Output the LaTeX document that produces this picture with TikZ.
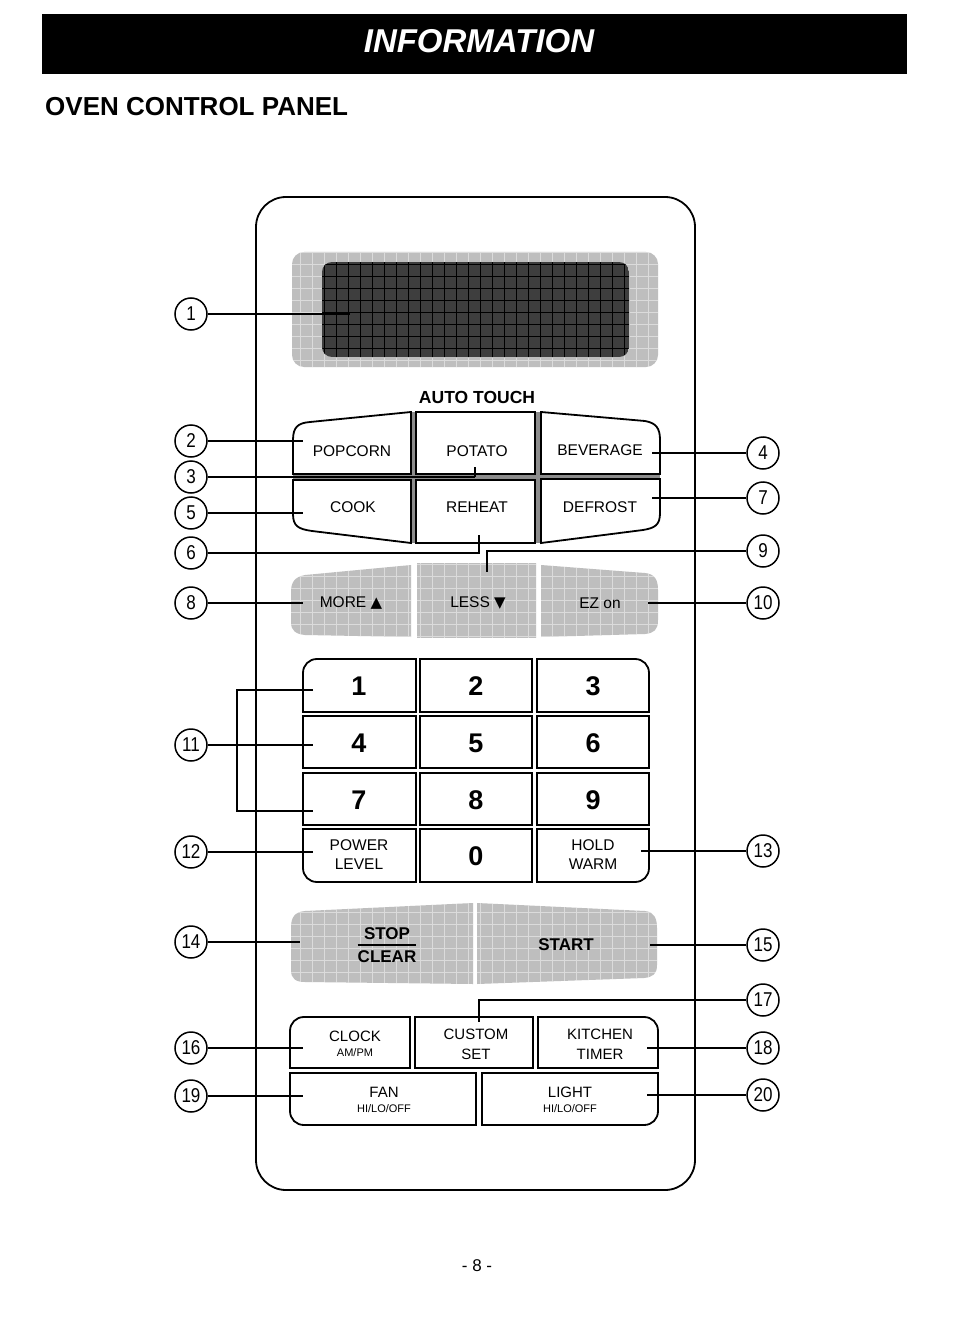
\documentclass[tikz,border=0pt]{standalone}
\usepackage{fontspec}
\setmainfont{Liberation Sans}
\newfontfamily\cond[FakeStretch=0.85]{Liberation Sans}
\newfontfamily\symf{DejaVu Sans}
\definecolor{btngray}{HTML}{BEBEBE}
\definecolor{lcdgray}{HTML}{3E3E3E}
\definecolor{gapgray}{HTML}{8C8C8C}
\tikzset{
  num/.style={circle,draw,line width=1.5pt,minimum size=32pt,inner sep=0pt,fill=white,font=\cond\fontsize{20}{20}\selectfont},
  lead/.style={line width=1.3pt},
  btn/.style={draw,line width=1.8pt,fill=white},
  lbl/.style={font=\fontsize{15.5}{19}\selectfont,inner sep=0pt,align=center},
  sml/.style={font=\fontsize{11}{13}\selectfont,inner sep=0pt},
  bld/.style={font=\bfseries\fontsize{17}{20}\selectfont,inner sep=0pt},
  dig/.style={font=\bfseries\fontsize{27}{27}\selectfont,inner sep=0pt},
}
\newcommand\gfill[1]{\begin{scope}\clip #1;\fill[btngray] (250,190) rectangle (700,1000);
  \draw[white,line width=0.6pt,opacity=0.45,step=12pt] (250,190) grid (700,1000);\end{scope}}
\begin{document}
\begin{tikzpicture}[x=1pt,y=-1pt]
\useasboundingbox (0,0) rectangle (953,1332);
\fill[white] (0,0) rectangle (953,1332);
% header
\fill[black] (42,14) rectangle (907,74);
\node[text=white,font=\bfseries\itshape\fontsize{33}{33}\selectfont,inner sep=0pt] (title) at (479,41) {INFORMATION};
\node[anchor=west,font=\bfseries\fontsize{26}{26}\selectfont,inner sep=0pt] (sub) at (45,107) {OVEN CONTROL PANEL};
% panel
\draw[line width=1.8pt,rounded corners=30pt] (256,197) rectangle (695,1190);
% display
\gfill{[rounded corners=12pt] (292,252) rectangle (658,367)}
\begin{scope}
  \clip[rounded corners=10pt] (322,262) rectangle (629,357);
  \fill[lcdgray] (322,262) rectangle (629,357);
  \draw[black,line width=0.8pt,step=12pt] (310,250) grid (640,370);
\end{scope}
\node[inner sep=0pt] (disp) at (475,310) {};
% auto touch
\node[font=\bfseries\fontsize{17.5}{18}\selectfont,inner sep=0pt] (auto) at (477,397) {AUTO TOUCH};
\fill[gapgray] (411,412) rectangle (416,543);
\fill[gapgray] (535,412) rectangle (541,543);
\fill[gapgray] (293,474) rectangle (660,480);
\path[btn] (411,412) -- (411,474) -- (293,474) -- (293,440) .. controls (293,427) and (298,423) .. (310,422) -- cycle;
\path[btn] (416,412) rectangle (535,474);
\path[btn] (541,412) -- (645,421) .. controls (656,423) and (660,428) .. (660,440) -- (660,474) -- (541,474) -- cycle;
\path[btn] (411,480) -- (293,480) -- (293,514) .. controls (293,526) and (298,529) .. (312,531) -- (411,543) -- cycle;
\path[btn] (416,480) rectangle (535,543);
\path[btn] (541,479) -- (660,479) -- (660,513) .. controls (660,525) and (655,528) .. (643,530) -- (541,543) -- cycle;
\node[lbl] (popcorn) at (352,451) {POPCORN};
\node[lbl] (potato) at (477,451) {POTATO};
\node[lbl] (beverage) at (600,450) {BEVERAGE};
\node[lbl] (cook) at (353,507) {COOK};
\node[lbl] (reheat) at (477,507) {REHEAT};
\node[lbl] (defrost) at (600,507) {DEFROST};
% more less ez
\gfill{(411,565) -- (305,575) .. controls (294,577) and (291,583) .. (291,592) -- (291,622) .. controls (291,631) and (296,634) .. (305,635) -- (411,637) -- cycle}
\gfill{(417,563) rectangle (536,637)}
\gfill{(541,565) -- (645,573) .. controls (655,574) and (658,580) .. (658,590) -- (658,620) .. controls (658,630) and (654,633) .. (645,634) -- (541,637) -- cycle}
\node[lbl] (more) at (351,603) {MORE {\symf\fontsize{15}{15}\selectfont ▲}};
\node[lbl] (less) at (478,603) {LESS {\symf\fontsize{15}{15}\selectfont ▼}};
\node[lbl] (ez) at (600,603) {EZ on};
% number pad
\path[btn] (416,659) -- (416,712) -- (303,712) -- (303,673) .. controls (303,665) and (309,659) .. (317,659) -- cycle;
\path[btn] (420,659) rectangle (532,712);
\path[btn] (537,659) -- (635,659) .. controls (643,659) and (649,665) .. (649,673) -- (649,712) -- (537,712) -- cycle;
\path[btn] (303,716) rectangle (416,768);
\path[btn] (420,716) rectangle (532,768);
\path[btn] (537,716) rectangle (649,768);
\path[btn] (303,773) rectangle (416,825);
\path[btn] (420,773) rectangle (532,825);
\path[btn] (537,773) rectangle (649,825);
\path[btn] (303,829) -- (416,829) -- (416,882) -- (317,882) .. controls (309,882) and (303,876) .. (303,868) -- cycle;
\path[btn] (420,829) rectangle (532,882);
\path[btn] (537,829) -- (649,829) -- (649,868) .. controls (649,876) and (643,882) .. (635,882) -- (537,882) -- cycle;
\node[dig] (k1) at (359,686) {1};
\node[dig] (k2) at (476,686) {2};
\node[dig] (k3) at (593,686) {3};
\node[dig] (k4) at (359,743) {4};
\node[dig] (k5) at (476,743) {5};
\node[dig] (k6) at (593,743) {6};
\node[dig] (k7) at (359,800) {7};
\node[dig] (k8) at (476,800) {8};
\node[dig] (k9) at (593,800) {9};
\node[dig] (k0) at (476,856) {0};
\node[lbl] (power) at (359,855) {POWER\\LEVEL};
\node[lbl] (hold) at (593,855) {HOLD\\WARM};
% stop start
\gfill{(473,903) -- (305,911) .. controls (294,912) and (291,918) .. (291,928) -- (291,970) .. controls (291,979) and (296,982) .. (305,982) -- (473,984) -- cycle}
\gfill{(477,903) -- (645,911) .. controls (654,912) and (657,918) .. (657,928) -- (657,965) .. controls (657,974) and (653,977) .. (644,978) -- (477,984) -- cycle}
\node[bld] (stop) at (387,934) {STOP};
\node[bld] (clear) at (387,957) {CLEAR};
\draw[line width=1.6pt] (clear.north west |- 0,945) -- (clear.north east |- 0,945);
\node[bld] (start) at (566,945) {START};
% bottom buttons
\path[btn] (410,1017) -- (410,1068) -- (290,1068) -- (290,1031) .. controls (290,1023) and (296,1017) .. (304,1017) -- cycle;
\path[btn] (415,1017) rectangle (533,1068);
\path[btn] (538,1017) -- (644,1017) .. controls (652,1017) and (658,1023) .. (658,1031) -- (658,1068) -- (538,1068) -- cycle;
\path[btn] (290,1073) -- (476,1073) -- (476,1125) -- (304,1125) .. controls (296,1125) and (290,1119) .. (290,1111) -- cycle;
\path[btn] (482,1073) -- (658,1073) -- (658,1111) .. controls (658,1119) and (652,1125) .. (644,1125) -- (482,1125) -- cycle;
\node[lbl,font=\fontsize{15}{18}\selectfont] (clock) at (355,1036) {CLOCK};
\node[sml] (ampm) at (355,1053) {AM/PM};
\node[lbl,font=\fontsize{15}{18}\selectfont] (custom) at (476,1034) {CUSTOM};
\node[lbl,font=\fontsize{15}{18}\selectfont] (set) at (476,1054) {SET};
\node[lbl,font=\fontsize{15}{18}\selectfont] (kitchen) at (600,1034) {KITCHEN};
\node[lbl,font=\fontsize{15}{18}\selectfont] (timer) at (600,1054) {TIMER};
\node[lbl,font=\fontsize{15}{18}\selectfont] (fan) at (384,1092) {FAN};
\node[sml] (fanhl) at (384,1109) {HI/LO/OFF};
\node[lbl,font=\fontsize{15}{18}\selectfont] (light) at (570,1092) {LIGHT};
\node[sml] (lighthl) at (570,1109) {HI/LO/OFF};
% page number
\node[font=\fontsize{17}{17}\selectfont,inner sep=0pt] (page) at (477,1266) {- 8 -};
% callout circles
\node[num] (c1) at (191,314) {1};
\node[num] (c2) at (191,441) {2};
\node[num] (c3) at (191,477) {3};
\node[num] (c4) at (763,453) {4};
\node[num] (c5) at (191,513) {5};
\node[num] (c6) at (191,553) {6};
\node[num] (c7) at (763,498) {7};
\node[num] (c8) at (191,603) {8};
\node[num] (c9) at (763,551) {9};
\node[num] (c10) at (763,603) {10};
\node[num] (c11) at (191,745) {11};
\node[num] (c12) at (191,852) {12};
\node[num] (c13) at (763,851) {13};
\node[num] (c14) at (191,942) {14};
\node[num] (c15) at (763,945) {15};
\node[num] (c16) at (191,1048) {16};
\node[num] (c17) at (763,1000) {17};
\node[num] (c18) at (763,1048) {18};
\node[num] (c19) at (191,1096) {19};
\node[num] (c20) at (763,1095) {20};
% leader end points
\coordinate (e1) at (350,314);
\coordinate (e2) at (303,441);
\coordinate (e3a) at (475,477); \coordinate (e3b) at (475,467);
\coordinate (e4) at (652,453);
\coordinate (e5) at (303,513);
\coordinate (e6a) at (479,553); \coordinate (e6b) at (479,535);
\coordinate (e7) at (652,498);
\coordinate (e8) at (303,603);
\coordinate (e9a) at (487,551); \coordinate (e9b) at (487,572);
\coordinate (e10) at (648,603);
\coordinate (e11) at (313,745);
\coordinate (b11a) at (313,690); \coordinate (b11b) at (237,690);
\coordinate (b11c) at (237,811); \coordinate (b11d) at (313,811);
\coordinate (e12) at (313,852);
\coordinate (e13) at (641,851);
\coordinate (e14) at (300,942);
\coordinate (e15) at (650,945);
\coordinate (e16) at (303,1048);
\coordinate (e17a) at (479,1000); \coordinate (e17b) at (479,1022);
\coordinate (e18) at (647,1048);
\coordinate (e19) at (303,1096);
\coordinate (e20) at (647,1095);
% leaders
\draw[lead] (c1) -- (e1);
\draw[lead] (c2) -- (e2);
\draw[lead,line width=2.2pt] (c3) -- (e3a);
\draw[lead] (e3a) -- (e3b);
\draw[lead] (c4) -- (e4);
\draw[lead] (c5) -- (e5);
\draw[lead] (c6) -- (e6a) -- (e6b);
\draw[lead] (c7) -- (e7);
\draw[lead] (c8) -- (e8);
\draw[lead] (c9) -- (e9a) -- (e9b);
\draw[lead] (c10) -- (e10);
\draw[lead] (c11) -- (e11);
\draw[lead] (b11a) -- (b11b) -- (b11c) -- (b11d);
\draw[lead] (c12) -- (e12);
\draw[lead] (c13) -- (e13);
\draw[lead] (c14) -- (e14);
\draw[lead] (c15) -- (e15);
\draw[lead] (c16) -- (e16);
\draw[lead] (c17) -- (e17a) -- (e17b);
\draw[lead] (c18) -- (e18);
\draw[lead] (c19) -- (e19);
\draw[lead] (c20) -- (e20);
\end{tikzpicture}
\end{document}
